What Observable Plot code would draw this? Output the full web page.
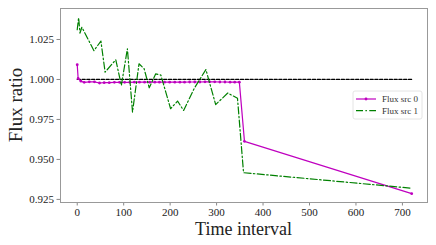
<!DOCTYPE html>
<html>
<head>
<meta charset="utf-8">
<script src="https://cdn.jsdelivr.net/npm/d3@7"></script>
<script src="https://cdn.jsdelivr.net/npm/@observablehq/plot@0.6"></script>
<style>
  html, body { margin: 0; padding: 0; background: #fff; }
  #chart svg { display: block; }
</style>
</head>
<body>
<div id="chart"></div>
<script>
// ---- data ----
const seriesNames = ["Flux src 0", "Flux src 1"];

const times0 = [0, 2, 8, 15, 26, 37, 48, 58, 69, 80, 91, 102, 113, 123, 134, 145, 156, 167, 177, 188, 199, 210, 221, 231, 242, 253, 264, 275, 285, 296, 307, 318, 329, 339, 349, 360, 720];
const flux0 = [1.0092, 1.0006, 0.9989, 0.9982, 0.9985, 0.9985, 0.9978, 0.9980, 0.9980, 0.9982, 0.9982, 0.9982, 0.9982, 0.9983, 0.9983, 0.9983, 0.9983, 0.9983, 0.9983, 0.9983, 0.9983, 0.9983, 0.9983, 0.9983, 0.9984, 0.9984, 0.9984, 0.9985, 0.9985, 0.9985, 0.9984, 0.9984, 0.9983, 0.9983, 0.9983, 0.9613, 0.9286];

const times1 = [0, 3, 6, 10, 36, 51, 60, 83, 95, 108, 119, 133, 144, 155, 169, 180, 201, 216, 229, 252, 277, 298, 324, 345, 358, 720];
const flux1 = [1.0311, 1.0386, 1.0290, 1.0327, 1.0180, 1.0240, 1.0046, 1.0123, 0.9963, 1.0192, 0.9796, 1.0098, 1.0067, 0.9948, 1.0035, 1.0028, 0.9817, 0.9865, 0.9806, 0.9945, 1.0062, 0.9843, 0.9915, 0.9882, 0.9417, 0.9320];

const refTimes = [0, 720];
const refValues = [1.0, 1.0];

const xTicks = [0, 100, 200, 300, 400, 500, 600, 700];
const yTicks = [0.925, 0.950, 0.975, 1.000, 1.025];

const xLabel = "Time interval";
const yLabel = "Flux ratio";

// ---- build tables ----
const s0 = times0.map((t, i) => ({t, v: flux0[i]}));
const s1 = times1.map((t, i) => ({t, v: flux1[i]}));
const ref = refTimes.map((t, i) => ({t, v: refValues[i]}));

const colors = ["#bf00bf", "#008000"];
const serif = "'Liberation Serif', 'DejaVu Serif', serif";

const W = 436, H = 245;
const mL = 60, mR = 9, mT = 8, mB = 43;

const chart = Plot.plot({
  width: W,
  height: H,
  marginLeft: mL,
  marginRight: mR,
  marginTop: mT,
  marginBottom: mB,
  style: {fontFamily: serif, fontSize: "11px", background: "#fff", color: "#222"},
  x: {domain: [-36, 754], ticks: xTicks, label: null},
  y: {domain: [0.92306, 1.04437], ticks: yTicks, label: null},
  marks: [
    Plot.axisX({ticks: xTicks, tickSize: 3.5, tickPadding: 2, stroke: "#888", fill: "#222", fontSize: 11, label: null}),
    Plot.axisY({ticks: yTicks, tickSize: 3.5, tickPadding: 3, stroke: "#888", fill: "#222", fontSize: 11, tickFormat: d3.format(".3f"), label: null}),
    Plot.line(ref, {x: "t", y: "v", stroke: "#000", strokeWidth: 1.2, strokeDasharray: "3.2,1.6"}),
    Plot.line(s0, {x: "t", y: "v", stroke: colors[0], strokeWidth: 1.2}),
    Plot.dot(s0, {x: "t", y: "v", fill: colors[0], r: 1.4}),
    Plot.line(s1, {x: "t", y: "v", stroke: colors[1], strokeWidth: 1.2, strokeDasharray: "7,2.4,1.5,2.4"}),
    Plot.frame({stroke: "#999", strokeWidth: 1})
  ]
});

document.getElementById("chart").appendChild(chart);

// ---- axis titles and legend ----
const svg = d3.select(chart);

svg.append("text")
  .attr("x", mL + (W - mL - mR) / 2)
  .attr("y", 234.5)
  .attr("text-anchor", "middle")
  .style("font-family", serif)
  .style("font-size", "18px")
  .attr("fill", "#222")
  .text(xLabel);

svg.append("text")
  .attr("transform", `translate(22,${mT + (H - mT - mB) / 2}) rotate(-90)`)
  .attr("text-anchor", "middle")
  .style("font-family", serif)
  .style("font-size", "19px")
  .attr("fill", "#222")
  .text(yLabel);

const lg = svg.append("g").attr("transform", "translate(353,91)");
lg.append("rect")
  .attr("width", 69).attr("height", 28)
  .attr("rx", 2).attr("ry", 2)
  .attr("fill", "#fff").attr("fill-opacity", 0.85)
  .attr("stroke", "#ddd").attr("stroke-width", 0.8);

seriesNames.forEach((name, i) => {
  const yy = 8 + i * 11.7;
  lg.append("line")
    .attr("x1", 3).attr("x2", 23).attr("y1", yy).attr("y2", yy)
    .attr("stroke", colors[i]).attr("stroke-width", 1.2)
    .attr("stroke-dasharray", i === 1 ? "7,2.4,1.5,2.4" : null);
  if (i === 0) {
    lg.append("circle").attr("cx", 13).attr("cy", yy).attr("r", 1.4).attr("fill", colors[i]);
  }
  lg.append("text")
    .attr("x", 29).attr("y", yy + 3)
    .attr("text-anchor", "start")
    .style("text-anchor", "start")
    .style("font-family", serif)
    .style("font-size", "9px")
    .attr("fill", "#333")
    .text(name);
});
</script>
</body>
</html>
